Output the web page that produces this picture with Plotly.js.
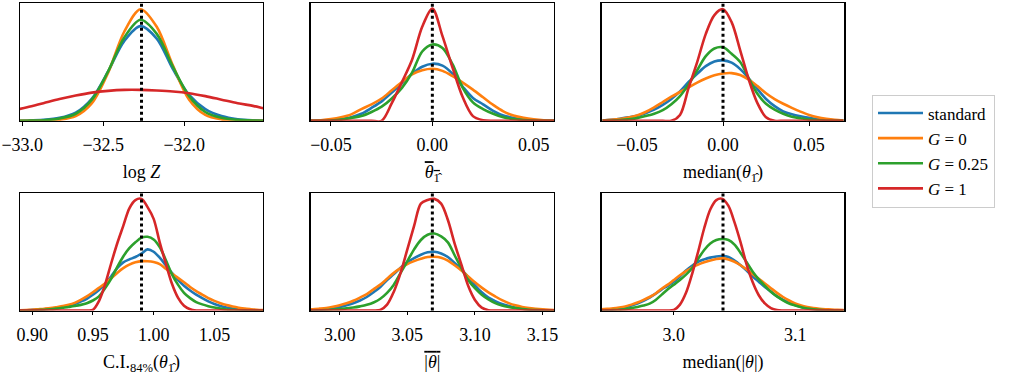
<!DOCTYPE html>
<html>
<head>
<meta charset="utf-8">
<script src="https://cdn.plot.ly/plotly-3.0.1.min.js"></script>
<style>html,body{margin:0;padding:0;background:#fff}#chart{width:1018px;height:375px}</style>
</head>
<body>
<div id="chart"></div>
<script>
// ---------------- data ----------------
const seriesNames = ["standard", "<i>G</i> = 0", "<i>G</i> = 0.25", "<i>G</i> = 1"];
const truthValues = [-32.264, 0, 0, 0.99, 3.0685, 3.0405];

// Panel 1: log Z
const p1X = [-33.07,-32.97,-32.87,-32.77,-32.67,-32.57,-32.47,-32.37,-32.27,-32.17,-32.07,-31.97,-31.87,-31.77,-31.67,-31.57,-31.47,-31.37];
const p1Standard = [0,0.2,0.8,2.5,7,19,42,68,80.6,70,44,22,10,4,1.3,0.4,0.1,0];
const p1G0 = [0,0,0.2,1,4,15,41,76,95,80,47,18,5,1.2,0.3,0,0,0];
const p1G025 = [0,0.1,0.5,2,6,18,42,71,86,74,46,21,7.5,2.5,0.8,0.2,0,0];
const p1G1 = [8.5,11.5,15,18.5,21.5,24,25.5,26.3,26.3,25.8,25,23.5,21,18,15,12.5,9.5,7.5];

// Panel 2: mean theta_1
const p2X = [-0.06,-0.055,-0.05,-0.045,-0.04,-0.035,-0.03,-0.025,-0.02,-0.015,-0.01,-0.005,0,0.005,0.01,0.015,0.02,0.025,0.03,0.035,0.04,0.045,0.05,0.055,0.06];
const p2Standard = [0,0.2,0.6,1.5,3,6,11,16.5,24,32,40,46,48.6,47,40,29,19.5,14,8.5,4.5,2.5,1,0.4,0.1,0];
const p2G0 = [0.1,0.5,1.4,3,5.5,10,14,19,26,33,39.5,43,44.3,42.5,38,32.5,26.5,20,13.5,8,4.5,2.5,1.2,0.4,0.1];
const p2G025 = [0,0,0.3,1,2.5,4,7.5,12,19,28,41,59,65,62,48,28,15.7,10,6,3,1.5,0.6,0.2,0,0];
const p2G1 = [0,0,0,0,0,0,0,0,15,33,52,80,95.5,72,45,20,4,0.5,0,0,0,0,0,0,0];

// Panel 3: median theta_1
const p3X = [-0.07,-0.065,-0.06,-0.055,-0.05,-0.045,-0.04,-0.035,-0.03,-0.025,-0.02,-0.015,-0.01,-0.005,0,0.005,0.01,0.015,0.02,0.025,0.03,0.035,0.04,0.045,0.05,0.055,0.06,0.065,0.07];
const p3Standard = [0.2,0.8,1.8,3,4.3,6.5,9.5,13.5,18.5,25,33,40,46.5,50.5,51.4,49.5,44,36,27,18.6,12.5,8,5.5,3.8,2.5,1.5,0.8,0.3,0.1];
const p3G0 = [0.3,0.8,1.5,2.7,4.5,7.5,11.5,16,20.5,24.5,28.5,32.5,36,38.8,40.3,40.6,39,35,29.5,23.5,18.5,14.5,11,7.8,5,3,1.7,0.8,0.3];
const p3G025 = [0,0.2,0.6,1.2,2.3,4,6,9,14,21,31,43,55,61.5,62.5,57,50,36,23,14.5,9.5,6,3.5,2.2,1,0.4,0.1,0,0];
const p3G1 = [0,0,0,0,0,0,0,0,0,5,28,50,74,90,95,84,60,35,15,3,0,0,0,0,0,0,0,0,0];

// Panel 4: C.I. 84%
const p4X = [0.89,0.895,0.9,0.905,0.91,0.915,0.92,0.925,0.93,0.935,0.94,0.945,0.95,0.955,0.96,0.965,0.97,0.975,0.98,0.985,0.99,0.995,1.0,1.005,1.01,1.015,1.02,1.025,1.03,1.035,1.04,1.045,1.05,1.055,1.06,1.065,1.07,1.075,1.08,1.085,1.09];
const p4Standard = [0.1,0.2,0.5,0.8,1.1,1.5,2,2.8,4,5.6,7.6,10,13.5,17.5,22.5,29,36,41,43.5,45.5,48.5,52,50,45,38.5,32,26,21,17,13.5,10.5,7.8,5.5,3.8,2.6,1.7,1,0.6,0.3,0.1,0];
const p4G0 = [0.2,0.4,0.7,1.1,1.5,2,2.8,3.7,4.8,6.5,9,12,15.5,19.3,23,27.5,32,36,39,41,42,41.9,41.2,39.5,35.5,31.5,27.8,24,20,16.5,13.5,10.5,8.2,6.2,4.6,3.4,2.4,1.6,1.1,0.7,0.4];
const p4G025 = [0,0,0.2,0.4,0.7,1,1.6,2.3,3,3.8,4.8,6.2,8.5,12,19,27,37,46,53,58,62,62.7,60.5,54,43,31,22,15,10.5,7.2,5.2,3.7,2.5,1.6,0.9,0.5,0.2,0.1,0,0,0];
const p4G1 = [0,0,0,0,0,0,0,0,0,0,0,0,0.5,8,22,40,57,72,87,94,95,88,78,58,40,23,11,4,1,0,0,0,0,0,0,0,0,0,0,0,0];

// Panel 5: mean |theta|
const p5X = [2.975,2.98,2.985,2.99,2.995,3.0,3.005,3.01,3.015,3.02,3.025,3.03,3.035,3.04,3.045,3.05,3.055,3.06,3.065,3.07,3.075,3.08,3.085,3.09,3.095,3.1,3.105,3.11,3.115,3.12,3.125,3.13,3.135,3.14,3.145,3.15,3.155,3.16];
const p5Standard = [0.2,0.4,0.7,1.1,2,3,4.4,6.2,8.5,11.5,15.5,20,26,31,36.5,41,44.5,47.5,49.5,50,48.5,45.5,40.5,35,28.5,21.5,15.5,11,8,5.5,3.8,2.4,1.5,0.9,0.5,0.3,0.1,0];
const p5G0 = [0.8,1.1,1.6,2.2,3.2,4.5,6.2,8.3,11,14,18,22,27,32,36,39.5,42,44,45.5,45.8,45,42.5,38.5,34,29,24,19.5,15.5,12,8.8,6.3,4.4,3,2.1,1.5,1,0.6,0.3];
const p5G025 = [0,0,0.2,0.4,0.8,1.2,1.8,2.5,3.5,4.8,6.8,10,15,22,32,42,52,60,64.5,65.5,63,58,47,36,26,19,13.5,9.5,6.3,4.3,3,2.1,1.3,0.7,0.3,0.1,0,0];
const p5G1 = [0,0,0,0,0,0,0,0,0,0,0,0.5,5,16,32,52,72,91,94,95,91,77,57,39,21,9,2.5,0.3,0,0,0,0,0,0,0,0,0,0];

// Panel 6: median |theta|
const p6X = [2.94,2.945,2.95,2.955,2.96,2.965,2.97,2.975,2.98,2.985,2.99,2.995,3.0,3.005,3.01,3.015,3.02,3.025,3.03,3.035,3.04,3.045,3.05,3.055,3.06,3.065,3.07,3.075,3.08,3.085,3.09,3.095,3.1,3.105,3.11,3.115,3.12,3.125,3.13,3.135,3.14];
const p6Standard = [0.1,0.3,0.8,1.8,2.8,4.2,6,8.2,11,14.3,18,21,24.5,29,34,38,41.5,43.5,45,46,46.3,45.5,42.5,38.5,34,29,24.5,20,16,12,9,6.5,4.6,3,1.9,1.1,0.6,0.3,0.1,0,0];
const p6G0 = [1,1.4,1.8,2.5,3.5,5,6.8,9,11.5,14.5,18.5,22,26,30,33.5,36.5,39,41,42.5,43.8,44.4,43.5,41.5,38.5,35,31,27,23,19,15,11.5,8.5,6,4.2,3,2.1,1.5,1.1,0.8,0.5,0.3];
const p6G025 = [0,0.1,0.3,0.6,1.2,2,3,4.2,5.8,9,13.5,18,22,26,30.5,36,44,51.5,57,60,60.8,60,56,49,41,33,26.5,21,16,12,8.7,6,4.3,2.8,1.7,1,0.5,0.2,0.1,0,0];
const p6G1 = [0,0,0,0,0,0,0,0,0,0,0,0,0.5,5,15,31,50,70,86,94,95,89,75,58,39,24,13,6,2,0.3,0,0,0,0,0,0,0,0,0,0,0];

// tick labels
const p1Ticks = [-33.0, -32.5, -32.0];   const p1TickText = ["\u221233.0", "\u221232.5", "\u221232.0"];
const p2Ticks = [-0.05, 0, 0.05];        const p2TickText = ["\u22120.05", "0.00", "0.05"];
const p3Ticks = [-0.05, 0, 0.05];        const p3TickText = ["\u22120.05", "0.00", "0.05"];
const p4Ticks = [0.90, 0.95, 1.00, 1.05]; const p4TickText = ["0.90", "0.95", "1.00", "1.05"];
const p5Ticks = [3.00, 3.05, 3.10, 3.15]; const p5TickText = ["3.00", "3.05", "3.10", "3.15"];
const p6Ticks = [3.0, 3.1];              const p6TickText = ["3.0", "3.1"];

const axisTitles = [
  "log <i>Z</i>",
  "<span style=\"text-decoration:overline\"><i>θ</i><sub>1\u0302</sub></span>",
  "median(<i>θ</i><sub>1\u0302</sub>)",
  "C.I.<sub>84%</sub>(<i>θ</i><sub>1\u0302</sub>)",
  "<span style=\"text-decoration:overline\">|<i>θ</i>|</span>",
  "median(|<i>θ</i>|)"
];

// ---------------- build ----------------
const panels = [
  {x: p1X, ys: [p1Standard, p1G0, p1G025, p1G1], range: [-33.014, -31.514], tv: p1Ticks, tt: p1TickText},
  {x: p2X, ys: [p2Standard, p2G0, p2G025, p2G1], range: [-0.06, 0.06], tv: p2Ticks, tt: p2TickText},
  {x: p3X, ys: [p3Standard, p3G0, p3G025, p3G1], range: [-0.0705, 0.0705], tv: p3Ticks, tt: p3TickText},
  {x: p4X, ys: [p4Standard, p4G0, p4G025, p4G1], range: [0.89, 1.09], tv: p4Ticks, tt: p4TickText},
  {x: p5X, ys: [p5Standard, p5G0, p5G025, p5G1], range: [2.9785, 3.1585], tv: p5Ticks, tt: p5TickText},
  {x: p6X, ys: [p6Standard, p6G0, p6G025, p6G1], range: [2.9405, 3.1405], tv: p6Ticks, tt: p6TickText}
];
const colors = ["#1f77b4", "#ff7f0e", "#2ca02c", "#d62728"];
const W = 1018, H = 375;
const colPx = [[20, 263], [310.7, 554], [601.7, 844.3]];
const rowPx = [[3.3, 120.8], [193, 310.5]];
const FONT = "'Liberation Serif', 'Times New Roman', serif";
const FS = 18;

const traces = [];
const layout = {
  width: W, height: H,
  margin: {l: 0, r: 0, t: 0, b: 0},
  paper_bgcolor: "#fff", plot_bgcolor: "#fff",
  font: {family: FONT, size: FS, color: "#000"},
  showlegend: true,
  legend: {
    x: 872 / W, y: 1 - 94.5 / H, xanchor: "left", yanchor: "top",
    bgcolor: "rgba(255,255,255,0.8)", bordercolor: "#cccccc", borderwidth: 1,
    font: {family: FONT, size: 17, color: "#000"},
    tracegroupgap: 0, itemwidth: 45, traceorder: "normal"
  },
  shapes: []
};

panels.forEach((p, i) => {
  const n = i + 1;
  const xa = "x" + (n === 1 ? "" : n), ya = "y" + (n === 1 ? "" : n);
  const c = colPx[i % 3], r = rowPx[Math.floor(i / 3)];
  p.ys.forEach((yv, j) => {
    traces.push({
      x: p.x, y: yv, xaxis: xa, yaxis: ya, type: "scatter", mode: "lines",
      name: seriesNames[j], showlegend: i === 0,
      line: {color: colors[j], width: 2.6, shape: "spline", smoothing: 0.9},
      hoverinfo: "skip"
    });
  });
  layout["xaxis" + (n === 1 ? "" : n)] = {
    domain: [c[0] / W, c[1] / W], anchor: ya, range: p.range,
    showline: true, mirror: true, linecolor: "#000", linewidth: 1.3,
    showgrid: false, zeroline: false,
    ticks: "outside", ticklen: 3.5, tickwidth: 1, tickcolor: "#000",
    ticklabelstandoff: 4,
    tickmode: "array", tickvals: p.tv, ticktext: p.tt,
    tickfont: {family: FONT, size: FS, color: "#000"},
    title: {text: axisTitles[i], font: {family: FONT, size: FS, color: "#000"}, standoff: 11}
  };
  layout["yaxis" + (n === 1 ? "" : n)] = {
    domain: [1 - r[1] / H, 1 - r[0] / H], anchor: xa, range: [0, 100],
    showline: true, mirror: true, linecolor: "#000", linewidth: 1.3,
    showgrid: false, zeroline: false, ticks: "", showticklabels: false
  };
  layout.shapes.push({
    type: "line", xref: xa, yref: ya + " domain", x0: truthValues[i], x1: truthValues[i], y0: 0, y1: 1,
    line: {color: "#000", width: 3, dash: "3px,3px"}, layer: "above"
  });
});

Plotly.newPlot("chart", traces, layout, {staticPlot: true, displayModeBar: false});
</script>
</body>
</html>
